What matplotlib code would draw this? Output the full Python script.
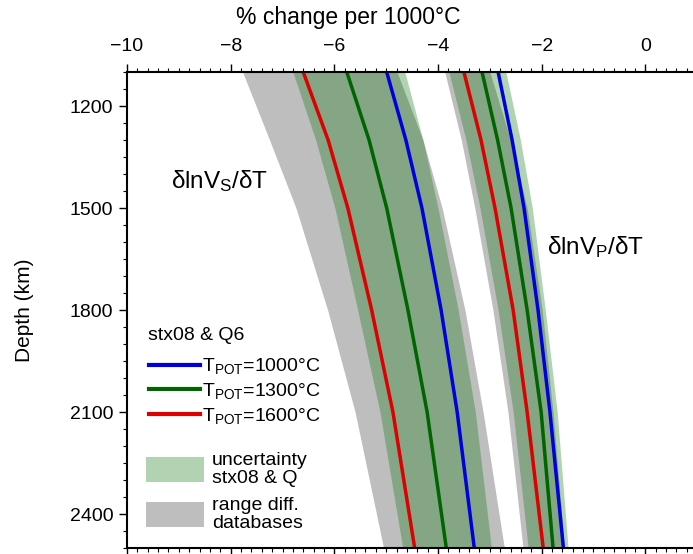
import matplotlib.pyplot as plt
from matplotlib.lines import Line2D
from matplotlib.patches import Patch

# ---------------------------------------------------------
# dados (profundidade em km, % por 1000 C)
# ---------------------------------------------------------
depth = [1100, 1300, 1500, 1800, 2100, 2500]

# dlnVs/dT
vs_gray_left = [-7.77, -7.25, -6.74, -6.13, -5.60, -5.05]
vs_gray_right = [-4.79, -4.29, -3.92, -3.48, -3.13, -2.72]
vs_unc_left = [-6.80, -6.36, -5.99, -5.55, -5.12, -4.68]
vs_unc_right = [-4.64, -4.29, -4.00, -3.61, -3.28, -2.97]
vs_t1000 = [-4.99, -4.62, -4.31, -3.94, -3.63, -3.30]
vs_t1300 = [-5.76, -5.33, -4.99, -4.58, -4.21, -3.84]
vs_t1600 = [-6.60, -6.12, -5.74, -5.28, -4.87, -4.45]

# dlnVp/dT
vp_gray_left = [-3.87, -3.55, -3.29, -2.94, -2.65, -2.36]
vp_gray_right = [-3.00, -2.60, -2.28, -1.99, -1.78, -1.56]
vp_unc_left = [-3.79, -3.46, -3.19, -2.84, -2.55, -2.26]
vp_unc_right = [-2.69, -2.41, -2.18, -1.93, -1.70, -1.49]
vp_t1000 = [-2.84, -2.57, -2.34, -2.07, -1.84, -1.58]
vp_t1300 = [-3.15, -2.85, -2.59, -2.28, -2.01, -1.78]
vp_t1600 = [-3.50, -3.17, -2.90, -2.55, -2.28, -1.97]

temp_labels = ["T$_{\\rm POT}$=1000°C", "T$_{\\rm POT}$=1300°C", "T$_{\\rm POT}$=1600°C"]

BLUE = "#0000dc"
GREEN = "#006400"
RED = "#dc0000"
GRAY = "#bebebe"
UNC = (0.0, 0.44, 0.0)
UNC_ALPHA = 0.3

plt.rcParams["font.family"] = ["Liberation Sans", "DejaVu Sans"]
plt.rcParams["mathtext.fontset"] = "custom"
plt.rcParams["mathtext.rm"] = "Liberation Sans"
plt.rcParams["mathtext.it"] = "Liberation Sans:italic"

fig = plt.figure(figsize=(6.93, 5.54), dpi=100)
ax = fig.add_axes([0.1833, 0.0108, 0.8167, 0.8592])

# bandas
ax.fill_betweenx(depth, vs_gray_left, vs_gray_right, color=GRAY, lw=0)
ax.fill_betweenx(depth, vp_gray_left, vp_gray_right, color=GRAY, lw=0)
ax.fill_betweenx(depth, vs_unc_left, vs_unc_right, color=UNC, alpha=UNC_ALPHA, lw=0)
ax.fill_betweenx(depth, vp_unc_left, vp_unc_right, color=UNC, alpha=UNC_ALPHA, lw=0)

# curvas
for vals, c in [(vs_t1000, BLUE), (vs_t1300, GREEN), (vs_t1600, RED),
                (vp_t1000, BLUE), (vp_t1300, GREEN), (vp_t1600, RED)]:
    ax.plot(vals, depth, color=c, lw=2.5)

ax.text(-9.16, 1420, "δlnV$_{\\rm S}$/δT", fontsize=17.5, va="center", ha="left")
ax.text(-1.89, 1615, "δlnV$_{\\rm P}$/δT", fontsize=17.5, va="center", ha="left")

ax.set_xlim(-10, 0.92)
ax.set_ylim(2500, 1100)

ax.xaxis.set_ticks_position("both")
ax.tick_params(axis="x", which="both", top=True, bottom=True,
               labeltop=True, labelbottom=False)
ax.set_xticks([-10, -8, -6, -4, -2, 0])
ax.set_xticklabels(["\u221210", "\u22128", "\u22126", "\u22124", "\u22122", "0"])
ax.set_xticks([x / 5 for x in range(-50, 5)], minor=True)
ax.set_yticks([1200, 1500, 1800, 2100, 2400])
ax.set_yticks(list(range(1100, 2501, 50)), minor=True)
ax.tick_params(which="major", direction="out", length=6, width=1.0, labelsize=14)
ax.tick_params(axis="x", which="major", pad=6)
ax.tick_params(axis="y", which="major", pad=4)
ax.tick_params(which="minor", direction="out", length=3, width=0.8)

ax.xaxis.set_label_position("top")
ax.set_xlabel("% change per 1000°C", fontsize=16.5)
ax.xaxis.set_label_coords(0.39, 1.10)
ax.set_ylabel("Depth (km)", fontsize=15)
ax.yaxis.set_label_coords(-0.165, 0.5)

for side in ["top", "left", "bottom"]:
    ax.spines[side].set_linewidth(1.5)
ax.spines["right"].set_visible(False)

# legenda
ax.text(0.037, 0.446, "stx08 & Q6", transform=ax.transAxes, fontsize=14,
        va="center", ha="left")
line_handles = [Line2D([], [], color=c, lw=3.0) for c in (BLUE, GREEN, RED)]
leg1 = ax.legend(line_handles, temp_labels,
                 loc="upper left", bbox_to_anchor=(0.022, 0.423),
                 frameon=False, fontsize=14,
                 handlelength=2.6, handletextpad=0.1, labelspacing=0.25,
                 borderpad=0)
ax.add_artist(leg1)

patch_handles = [Patch(facecolor=UNC, alpha=UNC_ALPHA, lw=0),
                 Patch(facecolor=GRAY, lw=0)]
leg2 = ax.legend(patch_handles, ["uncertainty\nstx08 & Q", "range diff.\ndatabases"],
                 loc="upper left", bbox_to_anchor=(0.016, 0.222),
                 frameon=False, fontsize=14, handlelength=3.0, handleheight=1.6,
                 handletextpad=0.4, labelspacing=0.5, borderpad=0)
for t in leg2.get_texts():
    t.set_linespacing(1.1)

fig.savefig("out.png", dpi=100)
